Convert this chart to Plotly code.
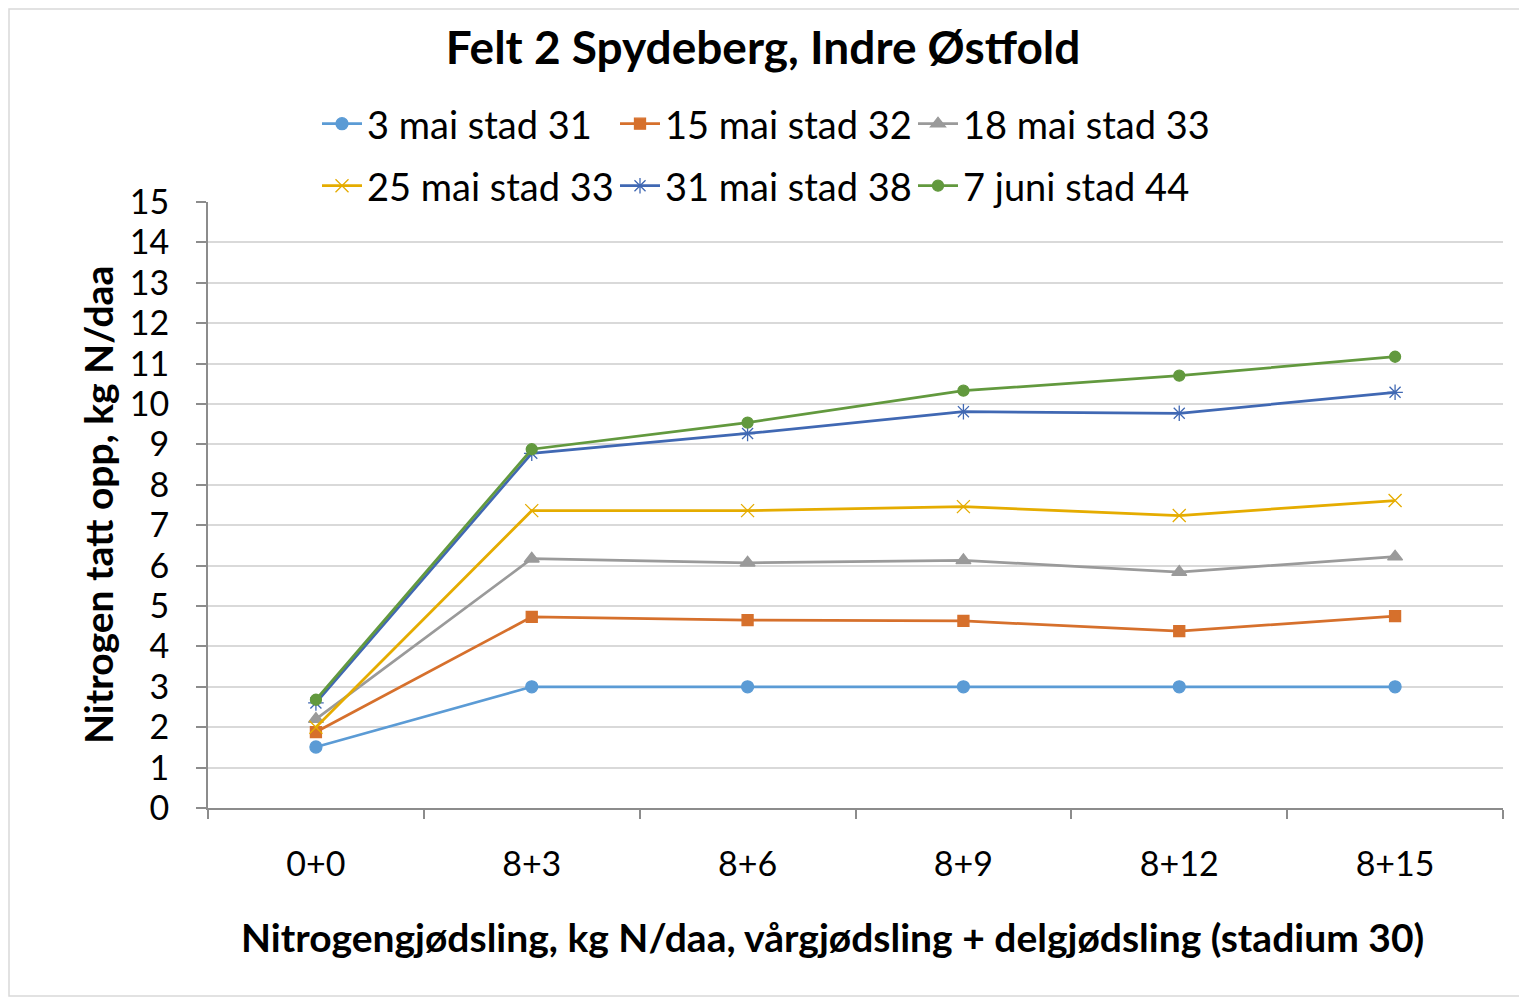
import plotly.graph_objects as go

categories = ["0+0", "8+3", "8+6", "8+9", "8+12", "8+15"]
series_names = ["3 mai stad 31", "15 mai stad 32", "18 mai stad 33",
                "25 mai stad 33", "31 mai stad 38", "7 juni stad 44"]
s_3mai = [1.51, 3.0, 3.0, 3.0, 3.0, 3.0]
s_15mai = [1.88, 4.73, 4.65, 4.63, 4.38, 4.75]
s_18mai = [2.2, 6.17, 6.07, 6.13, 5.84, 6.22]
s_25mai = [2.0, 7.36, 7.36, 7.46, 7.24, 7.61]
s_31mai = [2.6, 8.78, 9.27, 9.81, 9.77, 10.29]
s_7juni = [2.68, 8.88, 9.54, 10.33, 10.7, 11.17]
y_ticks = list(range(0, 16))

colors = ["#5B9BD5", "#D6702C", "#9A9A9A", "#E5AC00", "#4068B3", "#62993E"]
symbols = ["circle", "square", "triangle-up", "x-thin-open", "asterisk-open", "circle"]
sizes = [12, 11, 13, 13, 13, 11]
values = [s_3mai, s_15mai, s_18mai, s_25mai, s_31mai, s_7juni]
legend_ids = ["legend", "legend", "legend", "legend2", "legend2", "legend2"]

FONT = "Lato"
OFF = 8  # page body margin compensation

fig = go.Figure()
for name, vals, c, sym, sz, lg in zip(series_names, values, colors, symbols, sizes, legend_ids):
    fig.add_trace(go.Scatter(
        x=categories, y=vals, name=name, mode="lines+markers", legend=lg,
        line=dict(color=c, width=2.75),
        marker=dict(symbol=sym, size=sz, color=c, line=dict(color=c, width=1.3)),
    ))

W, H = 1527, 998
L, R, T, B = 208 - OFF, 24 + OFF, 202 - OFF, 190 + OFF
pw, ph = W - L - R, H - T - B


def px_x(page_x):
    return (page_x - OFF - L) / pw


def px_y(page_y):
    return 1 - (page_y - OFF - T) / ph


legend_common = dict(orientation="h", xanchor="left", yanchor="middle",
                     font=dict(size=38, family=FONT, color="black"),
                     entrywidth=243, entrywidthmode="pixels",
                     itemwidth=40, bgcolor="rgba(0,0,0,0)")

fig.update_layout(
    width=W, height=H,
    margin=dict(l=L, r=R, t=T, b=B, pad=0),
    paper_bgcolor="white", plot_bgcolor="white",
    font=dict(family=FONT, color="black", size=30),
    title=dict(text="<b>Felt 2 Spydeberg, Indre Østfold</b>",
               x=(763 - OFF) / W, xanchor="center", y=1 - (48 - OFF) / H, yanchor="middle",
               font=dict(size=46, family=FONT, color="black")),
    showlegend=True,
    legend=dict(x=px_x(317), y=px_y(124), **legend_common),
    legend2=dict(x=px_x(317), y=px_y(186), **legend_common),
    xaxis=dict(type="category", tickson="boundaries", ticks="outside", ticklen=9,
               tickcolor="#8c8c8c", tickwidth=2, showline=True, linecolor="#8c8c8c",
               linewidth=2, showgrid=False, ticklabelstandoff=25,
               tickfont=dict(size=34, family=FONT, color="black"),
               range=[-0.5, 5.5]),
    yaxis=dict(range=[0, 15], tickvals=y_ticks, ticks="outside", ticklen=10,
               tickcolor="#8c8c8c", tickwidth=2, showline=True, linecolor="#8c8c8c",
               linewidth=2, showgrid=True, gridcolor="#d9d9d9", gridwidth=1.5,
               zeroline=False, ticklabelstandoff=20,
               tickfont=dict(size=34, family=FONT, color="black")),
    annotations=[
        dict(text="<b>Nitrogengjødsling, kg N/daa, vårgjødsling + delgjødsling (stadium 30)</b>",
             xref="paper", yref="paper", x=px_x(832), y=px_y(937),
             xanchor="center", yanchor="middle", showarrow=False,
             font=dict(size=39, family=FONT, color="black")),
        dict(text="<b>Nitrogen tatt opp, kg N/daa</b>", textangle=-90,
             xref="paper", yref="paper", x=px_x(98), y=px_y(505),
             xanchor="center", yanchor="middle", showarrow=False,
             font=dict(size=39, family=FONT, color="black")),
    ],
    shapes=[dict(type="rect", xref="paper", yref="paper",
                 x0=px_x(OFF + 1), x1=px_x(1526),
                 y0=px_y(996), y1=px_y(OFF + 1),
                 line=dict(color="#d9d9d9", width=1.5), layer="below")],
)

fig.write_html("out.html")
